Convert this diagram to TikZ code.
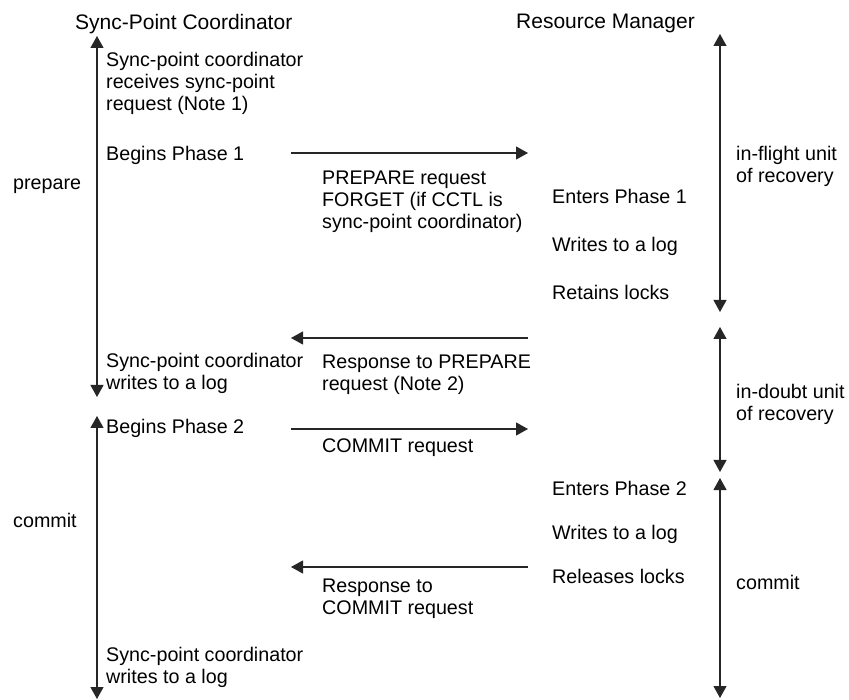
\documentclass[tikz,border=0pt]{standalone}
\usepackage{fontspec}
\setmainfont{Liberation Sans}
\usetikzlibrary{arrows.meta}

\newcommand{\bodysize}{\fontsize{19.7}{22}\selectfont}
\newcommand{\headsize}{\fontsize{21}{24}\selectfont}

\tikzset{
  txt/.style={anchor=north west, inner sep=0pt, align=left, font=\bodysize,
              execute at begin node=\strut},
  head/.style={anchor=north west, inner sep=0pt, font=\headsize,
               execute at begin node=\strut},
  flow/.style={line width=1.1pt, black!85,
               -{Triangle[length=12pt,width=13pt]}},
  span/.style={line width=1.1pt, black!85,
               {Triangle[length=12pt,width=13pt]}-{Triangle[length=12pt,width=13pt]}}
}

\begin{document}
\begin{tikzpicture}[x=1pt,y=-1pt]
\useasboundingbox (0,0) rectangle (849,700);

% column headings
\node[head] (hsp) at (75,13)  {Sync-Point Coordinator};
\node[head] (hrm) at (516,12) {Resource Manager};

% sync-point coordinator side
\coordinate (Lp1) at (97,36);
\coordinate (Lp2) at (97,397);
\coordinate (Lc1) at (97,416);
\coordinate (Lc2) at (97,699);
\draw[span] (Lp1) -- (Lp2);
\draw[span] (Lc1) -- (Lc2);

\node[txt] (lprep) at (13,174) {prepare};
\node[txt] (lcomm) at (13,512) {commit};

\node[txt] (s1) at (106,52)  {Sync-point coordinator\\receives sync-point\\request (Note 1)};
\node[txt] (s2) at (106,145) {Begins Phase 1};
\node[txt] (s3) at (106,353) {Sync-point coordinator\\writes to a log};
\node[txt] (s4) at (106,418) {Begins Phase 2};
\node[txt] (s5) at (106,647) {Sync-point coordinator\\writes to a log};

% messages between the two sides
\coordinate (a1l) at (291,153); \coordinate (a1r) at (528,153);
\coordinate (a2l) at (291,338); \coordinate (a2r) at (528,338);
\coordinate (a3l) at (291,429); \coordinate (a3r) at (528,429);
\coordinate (a4l) at (291,567); \coordinate (a4r) at (528,567);
\draw[flow] (a1l) -- (a1r);
\draw[flow] (a2r) -- (a2l);
\draw[flow] (a3l) -- (a3r);
\draw[flow] (a4r) -- (a4l);

\node[txt] (m1) at (322,171) {PREPARE request\\FORGET (if CCTL is\\sync-point coordinator)};
\node[txt] (m2) at (322,355) {Response to PREPARE\\request (Note 2)};
\node[txt] (m3) at (322,437) {COMMIT request};
\node[txt] (m4) at (322,579) {Response to\\COMMIT request};

% resource manager side
\node[txt] (r1) at (552,188) {Enters Phase 1};
\node[txt] (r2) at (552,236) {Writes to a log};
\node[txt] (r3) at (552,284) {Retains locks};
\node[txt] (r4) at (552,480) {Enters Phase 2};
\node[txt] (r5) at (552,524) {Writes to a log};
\node[txt] (r6) at (552,568) {Releases locks};

\coordinate (Rf1) at (720,34);  \coordinate (Rf2) at (720,312);
\coordinate (Rd1) at (720,327); \coordinate (Rd2) at (720,472);
\coordinate (Rc1) at (720,478); \coordinate (Rc2) at (720,698);
\draw[span] (Rf1) -- (Rf2);
\draw[span] (Rd1) -- (Rd2);
\draw[span] (Rc1) -- (Rc2);

\node[txt] (uf) at (736,146) {in-flight unit\\of recovery};
\node[txt] (ud) at (736,384) {in-doubt unit\\of recovery};
\node[txt] (uc) at (736,574) {commit};

\end{tikzpicture}
\end{document}
